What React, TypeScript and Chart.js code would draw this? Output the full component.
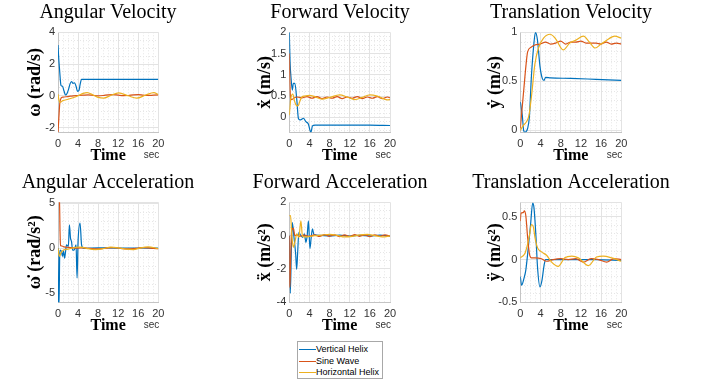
import React, { useEffect, useRef } from 'react';
import { Chart, registerables } from 'chart.js';
Chart.register(...registerables);

// ---------- data ----------
const seriesNames = ['Vertical Helix', 'Sine Wave', 'Horizontal Helix'];
const seriesColors = ['#0072BD', '#D95319', '#EDB120'];

// Angular Velocity
const avT_vh = [0, 0.1, 0.3, 0.6, 0.9, 1.2, 1.5, 1.8, 2.1, 2.4, 2.7, 3.0, 3.3, 3.6, 3.9, 4.2, 4.4, 4.7, 8, 12, 16, 20];
const avV_vh = [3.2, 2.6, 1.7, 0.65, 0.6, 0.3, 0.05, 0.15, 0.4, 0.75, 0.9, 0.78, 0.82, 0.6, 0.28, 0.35, 0.7, 1.04, 1.04, 1.04, 1.04, 1.04];
const avT_sw = [0, 0.15, 0.35, 0.6, 1, 2, 3, 4, 5, 6, 7, 8, 9, 10, 11, 12, 13, 14, 15, 16, 17, 18, 19, 20];
const avV_sw = [-2.3, -1.5, -0.5, -0.15, -0.08, -0.05, 0.0, 0.02, 0.04, 0.06, 0.03, 0.0, 0.02, 0.06, 0.07, 0.04, 0.01, 0.02, 0.06, 0.07, 0.04, 0.02, 0.04, 0.06];
const avT_hh = [0, 0.15, 0.35, 1, 2, 3, 4, 5, 5.8, 7, 8, 9.1, 10.5, 12.1, 14, 15.7, 17.5, 19.1, 20];
const avV_hh = [0.1, -0.2, -0.42, -0.3, -0.22, -0.12, 0.0, 0.15, 0.2, 0.05, -0.1, -0.15, 0.02, 0.18, 0.0, -0.15, 0.05, 0.2, 0.08];

// Forward Velocity
const fvT_vh = [0, 0.15, 0.35, 0.6, 0.8, 1.1, 1.5, 1.8, 2.1, 2.5, 2.8, 3.3, 3.8, 4.1, 4.3, 4.6, 5.1, 8, 12, 16, 20];
const fvV_vh = [2.0, 1.3, 0.92, 0.64, 0.8, 0.8, 0.4, -0.02, -0.06, -0.04, -0.02, -0.1, -0.16, -0.3, -0.35, -0.2, -0.18, -0.18, -0.18, -0.18, -0.19];
const fvT_sw = [0, 0.1, 0.25, 0.5, 1, 1.5, 2.5, 3.5, 4.5, 5.5, 6.5, 7.5, 8.5, 9.5, 10.5, 11.5, 12.5, 13.5, 14.5, 15.5, 16.5, 17.5, 18.5, 19.5, 20];
const fvV_sw = [1.5, 0.9, 0.45, 0.42, 0.46, 0.48, 0.46, 0.49, 0.45, 0.49, 0.44, 0.48, 0.45, 0.49, 0.44, 0.48, 0.45, 0.49, 0.44, 0.48, 0.45, 0.49, 0.44, 0.48, 0.46];
const fvT_hh = [0, 0.3, 0.7, 1.0, 1.3, 1.7, 2.1, 2.5, 3, 4, 5, 6.5, 8, 10, 11.5, 13, 14.5, 16, 17.5, 19.5, 20];
const fvV_hh = [0.05, 0.45, 0.55, 0.4, 0.3, 0.27, 0.38, 0.48, 0.5, 0.52, 0.49, 0.43, 0.47, 0.53, 0.48, 0.42, 0.47, 0.53, 0.5, 0.41, 0.42];

// Translation Velocity
const tvT_vh = [0, 0.4, 0.66, 0.9, 1.45, 1.8, 2.2, 2.7, 3.0, 3.4, 3.9, 4.35, 4.7, 5.0, 6, 10, 15, 20];
const tvV_vh = [0.29, 0.15, 0.0, -0.02, 0.02, 0.14, 0.55, 0.89, 1.0, 0.92, 0.65, 0.53, 0.51, 0.54, 0.535, 0.53, 0.52, 0.51];
const tvT_sw = [0, 0.4, 0.73, 1.1, 1.45, 2.2, 2.9, 3.9, 5, 6, 7, 8, 9, 10, 11, 12, 13, 14, 15, 16, 17, 18, 19, 20];
const tvV_sw = [0.02, 0.25, 0.44, 0.65, 0.8, 0.85, 0.87, 0.88, 0.9, 0.88, 0.89, 0.91, 0.88, 0.9, 0.9, 0.91, 0.89, 0.89, 0.89, 0.88, 0.9, 0.88, 0.89, 0.88];
const tvT_hh = [0, 0.6, 1.25, 1.7, 2.2, 2.9, 3.6, 4.6, 5.9, 6.9, 8.5, 9.8, 11, 12.5, 13.7, 14.8, 16, 17.1, 18.7, 20];
const tvV_hh = [0.0, 0.05, 0.09, 0.15, 0.34, 0.68, 0.84, 0.94, 0.98, 0.94, 0.82, 0.89, 0.92, 0.96, 0.9, 0.84, 0.88, 0.92, 0.96, 0.94];

// Angular Acceleration
const aaT_vh = [0, 0.1, 0.2, 0.35, 0.5, 0.7, 0.9, 1.1, 1.3, 1.5, 1.7, 2.07, 2.27, 2.5, 2.7, 2.9, 3.2, 3.6, 3.8, 4.0, 4.4, 4.7, 5.07, 8, 12, 16, 20];
const aaV_vh = [0, -6.5, -6.5, -0.5, -0.2, -0.4, -0.9, -0.3, -1.1, -0.4, 0.37, 0.2, 2.6, 1.1, 0.74, -0.2, -0.2, 0.37, -3.3, 0.74, 2.8, 0.37, 0.0, 0.05, 0.02, 0.03, 0.02];
const aaT_sw = [0, 0.05, 0.3, 0.4, 0.5, 0.8, 1.2, 2, 3, 4, 5, 6, 7, 8, 9, 10, 11, 12, 13, 14, 15, 16, 17, 18, 19, 20];
const aaV_sw = [5.2, 5.2, 5.1, 2, 0.3, 0.25, 0.15, 0.1, 0.05, 0.02, 0.05, 0.0, -0.05, -0.08, -0.03, 0.05, 0.08, 0.03, -0.05, -0.08, -0.05, 0.03, 0.08, 0.05, -0.02, -0.05];
const aaT_hh = [0, 0.15, 0.3, 0.6, 1.1, 2, 3, 4, 5, 6, 7.5, 9, 10.5, 12, 13.5, 15, 16.5, 18, 19.5, 20];
const aaV_hh = [0, -0.6, -0.9, -0.5, -0.2, -0.1, 0.05, 0.12, 0.1, -0.05, -0.15, -0.05, 0.12, 0.05, -0.1, -0.15, 0.05, 0.15, 0.02, -0.05];

// Forward Acceleration
const faT_vh = [0, 0.1, 0.2, 0.4, 0.6, 0.93, 1.26, 1.46, 1.65, 1.9, 2.2, 2.65, 3.0, 3.3, 3.55, 3.8, 4.1, 4.35, 4.6, 4.9, 6, 8, 10, 12, 14, 16, 18, 20];
const faV_vh = [0, -2.0, -3.45, -1.0, 0.78, -0.1, -1.08, -2.02, -1.08, 0.2, 0.05, -0.1, 0.1, -0.4, 0.0, 0.88, -0.78, -0.1, 0.4, 0.06, 0.02, -0.02, 0.03, -0.03, 0.02, -0.02, 0.03, -0.03];
const faT_sw = [0, 0.05, 0.13, 0.3, 0.46, 0.8, 1.1, 1.5, 2, 3, 4, 5, 6, 7, 8, 9, 10, 11, 12, 13, 14, 15, 16, 17, 18, 19, 20];
const faV_sw = [0, -2.5, -3.1, -1.0, 0.3, 0.45, 0.0, 0.05, -0.05, 0.03, -0.05, 0.05, -0.05, 0.06, -0.04, 0.05, -0.06, 0.04, -0.05, 0.06, -0.04, 0.05, -0.06, 0.05, -0.04, 0.05, -0.03];
const faT_hh = [0, 0.25, 0.5, 0.8, 1.1, 1.5, 1.9, 2.3, 2.6, 3, 4, 5, 6.5, 8, 9.5, 11, 12.5, 14, 15.5, 17, 18.5, 20];
const faV_hh = [1.2, 1.2, 0.0, -0.7, -0.4, 0.1, -0.1, 0.88, 0.0, -0.08, -0.05, 0.0, 0.03, 0.08, 0.02, -0.08, -0.05, 0.05, 0.08, 0.0, -0.08, -0.02];

// Translation Acceleration
const taT_vh = [0, 0.26, 0.73, 1.1, 1.6, 2.05, 2.45, 2.7, 3.1, 3.4, 3.9, 4.3, 4.7, 5.0, 6, 10, 15, 20];
const taV_vh = [-0.2, -0.3, -0.22, -0.12, 0.15, 0.42, 0.66, 0.61, 0.27, -0.08, -0.32, -0.24, -0.07, 0.0, 0.0, 0.0, 0.0, -0.01];
const taT_sw = [0, 0.13, 0.6, 0.8, 1.1, 1.45, 1.8, 2.2, 2.9, 4.2, 5.2, 6.5, 8, 9.5, 11, 12.5, 14, 15.5, 17.1, 18.5, 20];
const taV_sw = [0.45, 0.54, 0.55, 0.57, 0.51, 0.26, 0.07, 0.02, 0.02, 0.01, -0.02, 0.0, 0.01, 0.0, 0.01, -0.03, 0.01, 0.0, -0.03, 0.01, 0.0];
const taT_hh = [0, 0.9, 1.4, 1.8, 2.2, 2.6, 2.9, 3.4, 4.2, 5.2, 6.2, 7.5, 8.8, 10.2, 11.5, 13.5, 15.1, 16.4, 18.1, 20];
const taV_hh = [0.02, 0.07, 0.17, 0.28, 0.41, 0.38, 0.26, 0.14, 0.09, 0.05, -0.03, -0.08, 0.02, 0.04, 0.02, -0.07, 0.03, 0.04, 0.02, -0.02];

const xTickMajor = 4;
const xTickMinor = 1;
const xMax = 20;

const panels = [
  { title: 'Angular Velocity', yLabel: 'ω (rad/s)', yMin: -2.3, yMax: 4, major: 2, minor: 0.5,
    series: [[avT_vh, avV_vh], [avT_sw, avV_sw], [avT_hh, avV_hh]] },
  { title: 'Forward Velocity', yLabel: 'ẋ (m/s)', yMin: -0.35, yMax: 2, major: 0.5, minor: 0.1,
    series: [[fvT_vh, fvV_vh], [fvT_sw, fvV_sw], [fvT_hh, fvV_hh]] },
  { title: 'Translation Velocity', yLabel: 'ẏ (m/s)', yMin: -0.02, yMax: 1, major: 0.5, minor: 0.1,
    series: [[tvT_vh, tvV_vh], [tvT_sw, tvV_sw], [tvT_hh, tvV_hh]] },
  { title: 'Angular Acceleration', yLabel: 'ω\u0307 (rad/s²)', yMin: -6, yMax: 5.1, major: 5, minor: 1,
    series: [[aaT_vh, aaV_vh], [aaT_sw, aaV_sw], [aaT_hh, aaV_hh]] },
  { title: 'Forward Acceleration', yLabel: 'ẍ (m/s²)', yMin: -4, yMax: 2, major: 2, minor: 0.5,
    series: [[faT_vh, faV_vh], [faT_sw, faV_sw], [faT_hh, faV_hh]] },
  { title: 'Translation Acceleration', yLabel: 'ÿ (m/s²)', yMin: -0.5, yMax: 0.67, major: 0.5, minor: 0.1,
    series: [[taT_vh, taV_vh], [taT_sw, taV_sw], [taT_hh, taV_hh]] },
];

// ---------- layout ----------
const SERIF = '"Liberation Serif", "Times New Roman", serif';
const SANS = '"Liberation Sans", Arial, sans-serif';
const CW = 250;
const CH = 170;
const colCanvasLeft = [-17, 215, 446];
const colPlotLeft = [58, 289.3, 520.3];
const colPlotRight = [158.3, 390, 621.3];
const colYTitleX = [35.5, 265.5, 495.3];
const plotTop = 32.3;
const plotBottom = 132.3;

const isMultiple = (v: number, step: number) => Math.abs(v / step - Math.round(v / step)) < 1e-6;
const fmt = (v: number) => String(+v.toFixed(2));

const frameAndSecPlugin = {
  id: 'frameAndSec',
  beforeDatasetsDraw(chart: any) {
    const { ctx, chartArea } = chart;
    ctx.save();
    ctx.strokeStyle = '#e3e3e3';
    ctx.lineWidth = 1;
    ctx.beginPath();
    const t = Math.round(chartArea.top) + 0.5;
    ctx.moveTo(chartArea.left, t);
    ctx.lineTo(chartArea.right, t);
    ctx.stroke();
    ctx.restore();
  },
  afterDraw(chart: any) {
    const { ctx, chartArea } = chart;
    ctx.save();
    ctx.font = `10px ${SANS}`;
    ctx.fillStyle = '#333';
    ctx.textAlign = 'right';
    ctx.textBaseline = 'alphabetic';
    ctx.fillText('sec', chartArea.right + 1, chartArea.bottom + 25.8);
    ctx.restore();
  },
};

function Panel({ idx }: { idx: number }) {
  const ref = useRef<HTMLCanvasElement>(null);
  const p = panels[idx];
  const col = idx % 3;
  const row = Math.floor(idx / 3);
  const left = colCanvasLeft[col];
  useEffect(() => {
    const yFontSize = 18;
    const yLine = yFontSize * 1.2;
    const yW = colPlotLeft[col] - left;
    const y2W = left + CW - colPlotRight[col];
    const titleSize = 20;
    const chart = new Chart(ref.current!, {
      type: 'line',
      data: {
        datasets: p.series.map(([T, V], i) => ({
          label: seriesNames[i],
          data: (T as number[]).map((t, k) => ({ x: t, y: (V as number[])[k] })),
          borderColor: seriesColors[i],
          backgroundColor: seriesColors[i],
          borderWidth: 1.2,
          pointRadius: 0,
          cubicInterpolationMode: 'monotone',
          order: 3 - i,
          yAxisID: 'y',
        })),
      },
      options: {
        responsive: false,
        animation: false,
        devicePixelRatio: 1,
        layout: { padding: 0 },
        plugins: {
          legend: { display: false },
          tooltip: { enabled: false },
          title: {
            display: true,
            text: p.title,
            color: '#000',
            font: { family: SERIF, size: titleSize, weight: 'normal', lineHeight: 1.2 },
            padding: { top: 0.5, bottom: plotTop - 0.5 - titleSize * 1.2 },
          },
        },
        scales: {
          x: {
            type: 'linear',
            min: 0,
            max: xMax,
            ticks: {
              stepSize: xTickMinor,
              autoSkip: false,
              maxRotation: 0,
              padding: 5,
              color: '#333',
              font: { family: SANS, size: 11 },
              callback: (v: any) => (isMultiple(v, xTickMajor) ? fmt(v) : ''),
            },
            grid: {
              drawTicks: false,
              color: (c: any) => (c.tick && isMultiple(c.tick.value, xTickMajor) ? '#e3e3e3' : '#e6e6e6'),
            },
            border: {
              color: '#c4c4c4',
              dash: (c: any) => (c.tick && !isMultiple(c.tick.value, xTickMajor) ? [1, 2] : []),
            },
            title: {
              display: true,
              text: 'Time',
              color: '#000',
              font: { family: SERIF, size: 16, weight: 'bold', lineHeight: 1.2 },
              padding: { top: 0, bottom: 4.4 },
            },
            afterFit: (s: any) => { s.height = CH - plotBottom; },
          },
          y: {
            type: 'linear',
            position: 'left',
            min: p.yMin,
            max: p.yMax,
            ticks: {
              stepSize: p.minor,
              autoSkip: false,
              includeBounds: false,
              padding: 3,
              color: '#333',
              font: { family: SANS, size: 11 },
              callback: (v: any) => (isMultiple(v, p.major) ? fmt(v) : ''),
            },
            grid: {
              drawTicks: false,
              color: (c: any) => (c.tick && isMultiple(c.tick.value, p.major) ? '#e3e3e3' : '#e6e6e6'),
            },
            border: {
              color: '#c4c4c4',
              dash: (c: any) => (c.tick && !isMultiple(c.tick.value, p.major) ? [1, 2] : []),
            },
            title: {
              display: true,
              text: p.yLabel,
              color: '#000',
              font: { family: SERIF, size: yFontSize, weight: 'bold', lineHeight: 1.2 },
              padding: { top: colYTitleX[col] - left - yLine / 2, bottom: 0 },
            },
            afterFit: (s: any) => { s.width = yW; },
          },
          y2: {
            type: 'linear',
            position: 'right',
            display: true,
            ticks: { display: false },
            grid: { display: false },
            border: { display: false },
            afterFit: (s: any) => { s.width = y2W; },
          },
        },
      } as any,
      plugins: [frameAndSecPlugin],
    });
    return () => chart.destroy();
  }, []);
  return (
    <canvas
      ref={ref}
      width={CW}
      height={CH}
      style={{ position: 'absolute', left, top: row * CH, width: CW, height: CH }}
    />
  );
}

function Legend() {
  const rowsY = [7.8, 19.5, 30.8];
  return (
    <div
      style={{
        position: 'absolute', left: 296.5, top: 340.5, width: 86, height: 38,
        border: '1px solid #a8a8a8', background: '#fff', boxSizing: 'border-box',
        fontFamily: SANS, fontSize: 9, color: '#000',
      }}
    >
      {seriesNames.map((n, i) => (
        <div key={n} style={{ position: 'absolute', left: 0, top: rowsY[i] - 6, height: 12, width: 84 }}>
          <div style={{ position: 'absolute', left: 1, top: 5.5, width: 17, height: 0, borderTop: `1.3px solid ${seriesColors[i]}` }} />
          <div style={{ position: 'absolute', left: 18.5, top: 0, lineHeight: '12px', whiteSpace: 'nowrap' }}>{n}</div>
        </div>
      ))}
    </div>
  );
}

export default function App() {
  return (
    <div style={{ position: 'fixed', left: 0, top: 0, width: 713, height: 381, background: '#fff', overflow: 'hidden' }}>
      {panels.map((_, i) => <Panel key={i} idx={i} />)}
      <Legend />
    </div>
  );
}
